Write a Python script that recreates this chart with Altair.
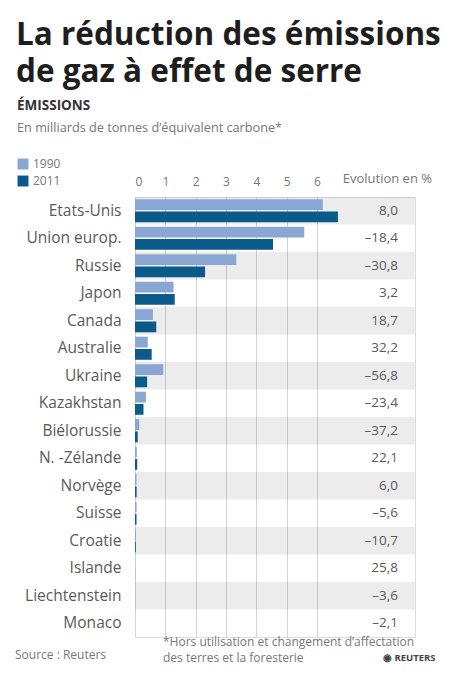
import altair as alt
import pandas as pd

countries = ["Etats-Unis", "Union europ.", "Russie", "Japon", "Canada", "Australie",
             "Ukraine", "Kazakhstan", "Biélorussie", "N. -Zélande", "Norvège", "Suisse",
             "Croatie", "Islande", "Liechtenstein", "Monaco"]
v1990 = [6.19, 5.58, 3.34, 1.27, 0.59, 0.42, 0.93, 0.36, 0.14, 0.060, 0.050, 0.053,
         0.031, 0.0035, 0.00023, 0.0001]
v2011 = [6.69, 4.55, 2.31, 1.31, 0.70, 0.55, 0.40, 0.28, 0.09, 0.073, 0.053, 0.050,
         0.028, 0.0044, 0.00022, 0.0001]
evolution = [8.0, -18.4, -30.8, 3.2, 18.7, 32.2, -56.8, -23.4, -37.2, 22.1, 6.0, -5.6,
             -10.7, 25.8, -3.6, -2.1]
years = ["1990", "2011"]
tick_values = [0, 1, 2, 3, 4, 5, 6]

W, H = 280, 440
FONT = "Open Sans"

rows = []
for c, a, b in zip(countries, v1990, v2011):
    rows.append({"country": c, "year": "1990", "value": a})
    rows.append({"country": c, "year": "2011", "value": b})
df = pd.DataFrame(rows)

def fmt(v):
    s = f"{abs(v):.1f}".replace(".", ",")
    return ("–" + s) if v < 0 else s

evo_df = pd.DataFrame({"country": countries, "evo": [fmt(v) for v in evolution]})
band_df = pd.DataFrame({"country": [c for i, c in enumerate(countries) if i % 2 == 0]})

yscale = alt.Scale(domain=countries, paddingInner=0, paddingOuter=0)
yaxis = alt.Axis(ticks=False, domain=False, labelPadding=14, labelFontSize=15.5,
                 labelColor="#5a5a5a", labelFont=FONT, title=None, labelLimit=200)

def ych():
    return alt.Y("country:N", sort=countries, scale=yscale, axis=yaxis, title=None)

bands = alt.Chart(band_df).mark_rect(color="#000000", opacity=0.075).encode(
    y=ych(), x=alt.value(0), x2=alt.value(W),
)

bars = alt.Chart(df).mark_bar().encode(
    y=ych(),
    x=alt.X("value:Q", scale=alt.Scale(domain=[0, 9.23], nice=False, zero=True),
            axis=alt.Axis(orient="top", values=tick_values, format="d", title=None,
                          grid=True, gridColor="#d4d4d4", gridWidth=1,
                          ticks=False, domain=False, labelPadding=9,
                          labelFontSize=12, labelColor="#777777", labelFont=FONT)),
    yOffset=alt.YOffset("year:N", scale=alt.Scale(paddingInner=0.12, paddingOuter=0.18)),
    color=alt.Color("year:N",
                    scale=alt.Scale(domain=years, range=["#8aa6d3", "#0b5a8c"]),
                    legend=alt.Legend(orient="none", legendX=-118, legendY=-39, title=None,
                                      symbolType="square", symbolSize=120,
                                      symbolStrokeWidth=0, labelFontSize=12,
                                      labelColor="#777777", labelFont=FONT,
                                      rowPadding=5, labelOffset=4)),
)

evo_text = alt.Chart(evo_df).mark_text(align="right", baseline="middle", fontSize=13.5,
                                       color="#5a5a5a", font=FONT).encode(
    y=ych(), x=alt.value(263), text="evo:N",
)

def note(text, x, y, size, color="#777777", weight="normal", align="left", baseline="alphabetic"):
    return alt.Chart(pd.DataFrame({"t": [text]})).mark_text(
        align=align, baseline=baseline, fontSize=size, color=color,
        fontWeight=weight, font=FONT).encode(
        x=alt.value(x), y=alt.value(y), text="t:N")

notes = [
    note("La réduction des émissions", -119, -152, 31.5, "#1e1e1e", "bold"),
    note("de gaz à effet de serre", -119, -115, 31.5, "#1e1e1e", "bold"),
    note("ÉMISSIONS", -118, -87, 13.5, "#333333", "bold"),
    note("En milliards de tonnes d’équivalent carbone*", -118, -65, 12.7, "#777777"),
    note("Evolution en %", 297, -18, 13, "#777777", align="right", baseline="middle"),
    note("Source : Reuters", -120, 458, 12, "#777777", baseline="middle"),
    note("*Hors utilisation et changement d’affectation", 28, 445, 12, "#777777", baseline="middle"),
    note("des terres et la foresterie", 28, 461, 12, "#777777", baseline="middle"),
    note("◉ REUTERS", 248, 461, 9.5, "#444444", "bold", baseline="middle"),
]

chart = alt.layer(bands, bars, evo_text, *notes).properties(
    width=W, height=H,
    autosize=alt.AutoSizeParams(type="none"),
    padding={"left": 127, "top": 189, "right": 41, "bottom": 30},
).configure_view(stroke=None).configure(font=FONT)

chart.save("out.html", embed_options={"renderer": "svg", "actions": False})
